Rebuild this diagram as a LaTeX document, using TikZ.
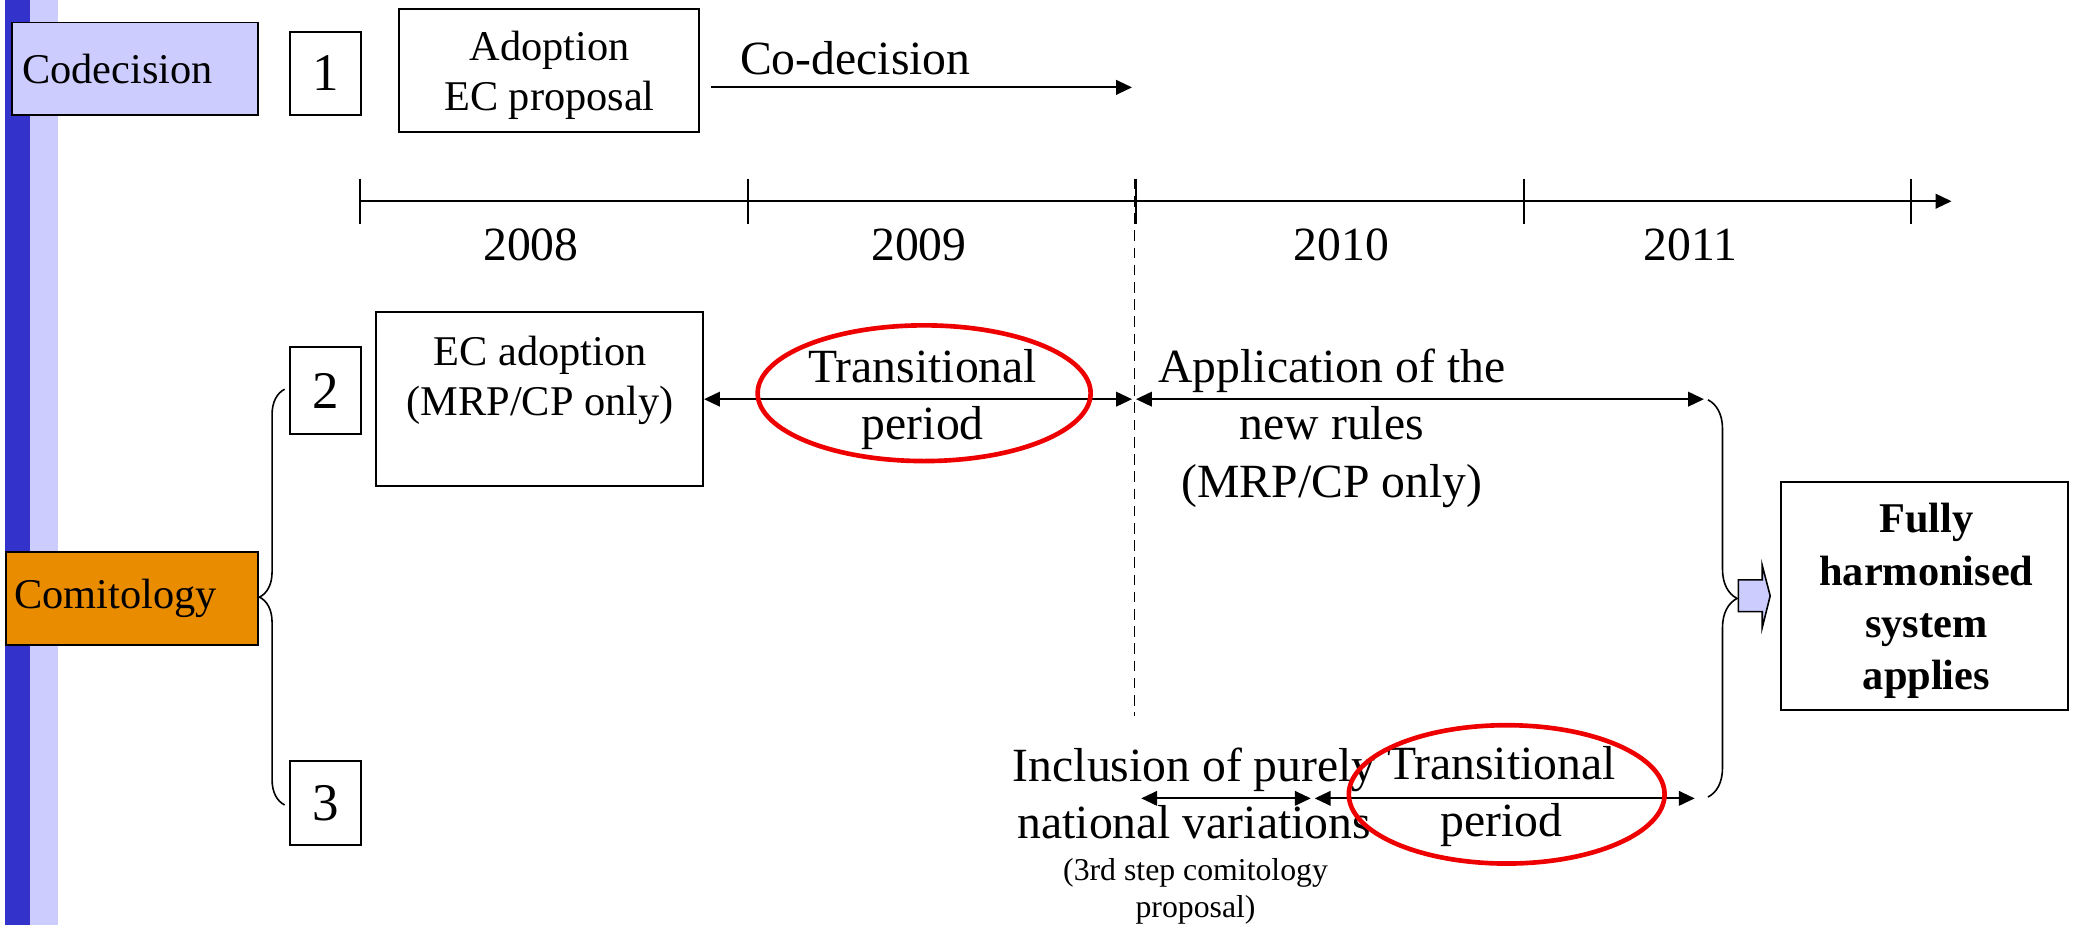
\documentclass[tikz,border=0pt]{standalone}
\usepackage{fontspec}
\setmainfont{Liberation Serif}
\usetikzlibrary{arrows.meta,decorations.pathreplacing,shapes.geometric}
\definecolor{darkbar}{HTML}{3333CC}
\definecolor{lightbar}{HTML}{CCCCFF}
\definecolor{orangebox}{HTML}{EA8C00}
\definecolor{redring}{HTML}{EE0000}
\tikzset{
  boxline/.style={draw=black, line width=0.75pt, inner sep=0pt},
  numbox/.style={boxline, minimum width=27pt, font=\fontsize{20}{24}\selectfont},
  bigtxt/.style={font=\fontsize{18}{21.6}\selectfont, align=center, inner sep=0pt},
  midtxt/.style={font=\fontsize{16}{19}\selectfont, align=center, inner sep=0pt},
  smalltxt/.style={font=\fontsize{12}{14}\selectfont, align=center, inner sep=0pt},
  arr/.style={line width=0.75pt, -{Triangle[length=6pt,width=5.5pt]}},
  darr/.style={line width=0.75pt, {Triangle[length=6pt,width=5.5pt]}-{Triangle[length=6pt,width=5.5pt]}},
  ring/.style={draw=redring, line width=1.75pt, ellipse, inner sep=0pt},
  bracestyle/.style={line width=0.6pt, decorate},
}
\begin{document}
\begin{tikzpicture}[x=0.5pt,y=-0.5pt]
\useasboundingbox (0,0) rectangle (1568,699);
% side bars
\fill[darkbar] (4,0) rectangle (23,699);
\fill[lightbar] (23,0) rectangle (44,699);

% left labels
\node[boxline, fill=lightbar, minimum height=35pt, text width=85pt, inner xsep=4pt, align=left,
      font=\fontsize{16}{19.2}\selectfont, anchor=west] (codec) at (8,52) {Codecision};
\node[boxline, fill=orangebox, minimum height=35pt, text width=89pt, inner xsep=3pt, align=left,
      font=\fontsize{16}{19.2}\selectfont, anchor=west] (comit) at (4,452) {\raisebox{-1.5pt}{Comitology}};

% number boxes
\node[numbox, minimum height=31.5pt] (n1) at (246,55.5) {1};
\node[numbox, minimum height=33pt] (n2) at (246,295) {2};
\node[numbox, minimum height=31.5pt] (n3) at (246,606.5) {3};

% Adoption EC proposal
\node[boxline, minimum width=113.5pt, minimum height=46.5pt] (adopt) at (414.5,53.5) {};
\node[midtxt] (adopttxt) at (415,57) {Adoption\\EC proposal};
\coordinate (cdS) at (537,66);
\coordinate (cdE) at (855,66);
\draw[arr] (cdS) -- (cdE);
\node[bigtxt] (cdlab) at (646,44) {Co-decision};

% timeline
\coordinate (t0) at (272,152);
\coordinate (t1) at (565,152);
\coordinate (t2) at (858,152);
\coordinate (t3) at (1151,152);
\coordinate (t4) at (1443,152);
\coordinate (tend) at (1474,152);
\draw[arr] (t0) -- (tend);
\foreach \t in {t0,t1,t2,t3,t4}{
  \draw[line width=0.75pt] ([yshift=8.5pt]\t) -- ([yshift=-8.5pt]\t);
}
\node[bigtxt] (y8) at (401,185) {2008};
\node[bigtxt] (y9) at (694,185) {2009};
\node[bigtxt] (y10) at (1013,185) {2010};
\node[bigtxt] (y11) at (1277,185) {2011};

% dashed separator
\coordinate (dTop) at (857,135);
\coordinate (dBot) at (857,541);
\draw[line width=0.6pt, dash pattern=on 4pt off 2.5pt] (dTop) -- (dBot);

% EC adoption box
\node[boxline, minimum width=123.5pt, minimum height=65.5pt] (ecad) at (407.5,301.5) {};
\node[midtxt] (ecadtxt) at (408,287.5) {EC adoption\\(MRP/CP only)};
\coordinate (tp1E) at (855,301.5);
\draw[darr] (ecad.east) -- (tp1E);
\node[bigtxt] (tp1) at (697,302) {Transitional\\period};
\node[ring, minimum width=125.75pt, minimum height=51.25pt] (ring1) at (698,297) {};

% application of the new rules
\coordinate (apS) at (858,301.5);
\coordinate (apE) at (1287,301.5);
\draw[darr] (apS) -- (apE);
\node[bigtxt] (aptxt) at (1006,323.5) {Application of the\\new rules\\(MRP/CP only)};

% step 3
\coordinate (inS) at (862,603);
\coordinate (inE) at (990,603);
\coordinate (trS) at (993,603);
\coordinate (trE) at (1280,603);
\draw[darr] (inS) -- (inE);
\draw[darr] (trS) -- (trE);
\node[bigtxt] (incl) at (902,599) {Inclusion of purely\\national variations};
\node[smalltxt] (note) at (903,673) {(3rd step comitology\\proposal)};
\node[bigtxt] (tp2) at (1134,601.5) {Transitional\\period};
\node[ring, minimum width=119.25pt, minimum height=52.25pt] (ring2) at (1138,600) {};

% braces
\coordinate (lbB) at (215,608);
\coordinate (lbT) at (215,294);
\draw[bracestyle, decoration={brace, amplitude=9.5pt}] (lbB) -- (lbT);
\coordinate (rbT) at (1290,302);
\coordinate (rbB) at (1290,602);
\draw[bracestyle, decoration={brace, amplitude=11pt}] (rbT) -- (rbB);

% block arrow
\draw[fill=lightbar, line width=0.6pt] (1313,438) -- (1331,438) -- (1331,427) -- (1337,450)
   -- (1331,474) -- (1331,462) -- (1313,462) -- cycle;

% result box
\node[boxline, minimum width=108.5pt, minimum height=86pt] (full) at (1453.5,450) {};
\node[align=center, inner sep=0pt, font=\bfseries\fontsize{16}{19.8}\selectfont] (fulltxt) at (1455,454)
   {Fully\\harmonised\\system\\applies};
\end{tikzpicture}
\end{document}
